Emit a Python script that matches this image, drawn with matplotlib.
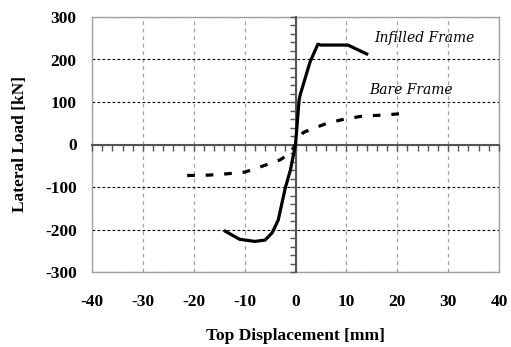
import matplotlib
matplotlib.use("Agg")
import matplotlib.pyplot as plt
from matplotlib.ticker import MultipleLocator

plt.rcParams["axes.unicode_minus"] = False

# Infilled frame
infilled_disp = [-13.8, -11.0, -8.0, -6.0, -4.6, -3.4, -2.0, -1.0, 0.0, 0.7, 0.9, 2.2, 2.85, 4.4, 5.0, 10.3, 14.0]
infilled_load = [-204, -223, -228, -225, -208, -178, -102, -60, 0, 104, 116, 168, 194, 236, 234, 234, 213]

# Bare frame
bare_disp = [-21.3, -17.0, -13.5, -10.0, -6.5, -3.0, -1.0, 0.0, 1.5, 2.7, 6.2, 9.7, 13.3, 17.0, 21.3]
bare_load = [-73, -72, -69, -65, -51, -36, -20, 0, 28, 34, 50, 60, 67, 69, 73]

serif = "Liberation Serif"

fig = plt.figure(figsize=(5.11, 3.47), dpi=100)
pos = [92 / 511, 75 / 347, 407 / 511, 255 / 347]

# outer frame with grid and tick labels
ax = fig.add_axes(pos)
ax.set_xlim(-40, 40)
ax.set_ylim(-300, 300)
ax.set_xticks(range(-40, 41, 10))
ax.set_yticks(range(-300, 301, 100))
ax.tick_params(length=0)
ax.tick_params(axis="y", pad=11)
ax.tick_params(axis="x", pad=16)
for lab in ax.get_xticklabels() + ax.get_yticklabels():
    lab.set_fontfamily(serif)
    lab.set_fontweight("bold")
    lab.set_fontsize(12.5)
ax.yaxis.grid(True, color="black", linestyle=(0, (2.5, 2)), linewidth=0.8)
ax.xaxis.grid(True, color="#a0a0a0", linestyle=(0, (3, 3)), linewidth=0.9)
for sp in ax.spines.values():
    sp.set_color("#a0a0a0")
    sp.set_linewidth(1.0)
ax.set_xlabel("Top Displacement [mm]", fontfamily=serif, fontweight="bold",
              fontsize=12.5, labelpad=13)
ax.set_ylabel("Lateral Load [kN]", fontfamily=serif, fontweight="bold",
              fontsize=12.5, labelpad=12)

# axes through the origin
ax2 = fig.add_axes(pos)
ax2.patch.set_visible(False)
ax2.set_xlim(-40, 40)
ax2.set_ylim(-300, 300)
ax2.spines["left"].set_position(("data", 0))
ax2.spines["bottom"].set_position(("data", 0))
ax2.spines["top"].set_visible(False)
ax2.spines["right"].set_visible(False)
for s in ("left", "bottom"):
    ax2.spines[s].set_color("#555555")
    ax2.spines[s].set_linewidth(1.5)
ax2.xaxis.set_major_locator(MultipleLocator(2))
ax2.yaxis.set_major_locator(MultipleLocator(20))
ax2.tick_params(direction="out", length=4, width=1, color="#555555",
                labelbottom=False, labelleft=False)

ax2.plot(infilled_disp, infilled_load, color="black", linewidth=2.3, zorder=3)
ax2.plot(bare_disp, bare_load, color="black", linewidth=2.3,
         linestyle=(0, (2.4, 3.4)), zorder=3)

ax2.text(15.4, 250, "Infilled Frame", fontfamily="DejaVu Serif", style="italic",
         fontsize=10, va="center", ha="left")
ax2.text(14.5, 128, "Bare Frame", fontfamily="DejaVu Serif", style="italic",
         fontsize=10, va="center", ha="left")

fig.savefig("out.png", dpi=100)
